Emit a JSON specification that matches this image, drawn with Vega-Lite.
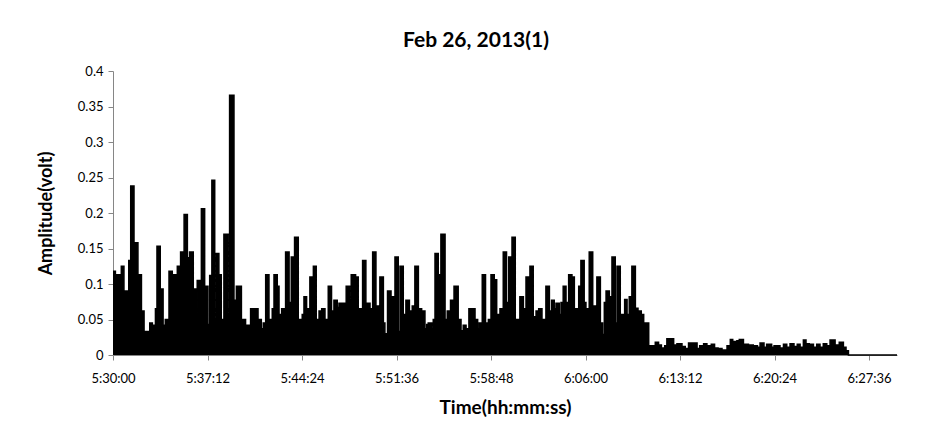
{
  "$schema": "https://vega.github.io/schema/vega-lite/v6.json",
  "width": 784,
  "height": 284,
  "autosize": {"type": "none"},
  "padding": {"left": 113, "top": 71, "right": 28, "bottom": 80},
  "background": "white",
  "config": {
    "view": {"stroke": null},
    "font": "Lato",
    "axis": {"labelFont": "Lato", "titleFont": "Lato"}
  },
  "title": {
    "text": "Feb 26, 2013(1)",
    "font": "Lato",
    "fontSize": 21,
    "fontWeight": "bold",
    "color": "black",
    "anchor": "middle",
    "dx": -29,
    "offset": 14
  },
  "data": {
    "values": [
      {"time": 0, "amplitude": 0.118}, {"time": 11, "amplitude": 0.113}, {"time": 38, "amplitude": 0.125}, {"time": 50, "amplitude": 0.09},
      {"time": 66, "amplitude": 0.05}, {"time": 72, "amplitude": 0.133}, {"time": 81, "amplitude": 0.238}, {"time": 96, "amplitude": 0.158},
      {"time": 114, "amplitude": 0.113}, {"time": 130, "amplitude": 0.062}, {"time": 142, "amplitude": 0.033}, {"time": 168, "amplitude": 0.045},
      {"time": 180, "amplitude": 0.042}, {"time": 194, "amplitude": 0.065}, {"time": 201, "amplitude": 0.153}, {"time": 216, "amplitude": 0.093},
      {"time": 229, "amplitude": 0.042}, {"time": 239, "amplitude": 0.05}, {"time": 256, "amplitude": 0.118}, {"time": 271, "amplitude": 0.113},
      {"time": 294, "amplitude": 0.125}, {"time": 309, "amplitude": 0.145}, {"time": 325, "amplitude": 0.198}, {"time": 340, "amplitude": 0.137},
      {"time": 350, "amplitude": 0.145}, {"time": 367, "amplitude": 0.093}, {"time": 381, "amplitude": 0.057}, {"time": 385, "amplitude": 0.105},
      {"time": 404, "amplitude": 0.206}, {"time": 419, "amplitude": 0.097}, {"time": 434, "amplitude": 0.043}, {"time": 442, "amplitude": 0.112},
      {"time": 452, "amplitude": 0.246}, {"time": 465, "amplitude": 0.05}, {"time": 472, "amplitude": 0.143}, {"time": 484, "amplitude": 0.113},
      {"time": 495, "amplitude": 0.05}, {"time": 507, "amplitude": 0.17}, {"time": 526, "amplitude": 0.057}, {"time": 533, "amplitude": 0.366},
      {"time": 553, "amplitude": 0.077}, {"time": 564, "amplitude": 0.097}, {"time": 587, "amplitude": 0.05}, {"time": 606, "amplitude": 0.033},
      {"time": 611, "amplitude": 0.042}, {"time": 629, "amplitude": 0.065}, {"time": 663, "amplitude": 0.05}, {"time": 678, "amplitude": 0.037},
      {"time": 687, "amplitude": 0.045}, {"time": 698, "amplitude": 0.113}, {"time": 713, "amplitude": 0.05}, {"time": 728, "amplitude": 0.065},
      {"time": 736, "amplitude": 0.113}, {"time": 751, "amplitude": 0.097}, {"time": 759, "amplitude": 0.057}, {"time": 771, "amplitude": 0.065},
      {"time": 789, "amplitude": 0.145}, {"time": 805, "amplitude": 0.074}, {"time": 815, "amplitude": 0.138}, {"time": 830, "amplitude": 0.166},
      {"time": 847, "amplitude": 0.05}, {"time": 865, "amplitude": 0.057}, {"time": 873, "amplitude": 0.082}, {"time": 885, "amplitude": 0.065},
      {"time": 900, "amplitude": 0.11}, {"time": 916, "amplitude": 0.125}, {"time": 929, "amplitude": 0.05}, {"time": 942, "amplitude": 0.062},
      {"time": 954, "amplitude": 0.065}, {"time": 969, "amplitude": 0.05}, {"time": 984, "amplitude": 0.097}, {"time": 999, "amplitude": 0.062},
      {"time": 1010, "amplitude": 0.077}, {"time": 1025, "amplitude": 0.067}, {"time": 1033, "amplitude": 0.073}, {"time": 1066, "amplitude": 0.097},
      {"time": 1082, "amplitude": 0.074}, {"time": 1089, "amplitude": 0.113}, {"time": 1109, "amplitude": 0.11}, {"time": 1121, "amplitude": 0.065},
      {"time": 1141, "amplitude": 0.133}, {"time": 1156, "amplitude": 0.073}, {"time": 1175, "amplitude": 0.065}, {"time": 1187, "amplitude": 0.145},
      {"time": 1202, "amplitude": 0.069}, {"time": 1220, "amplitude": 0.11}, {"time": 1236, "amplitude": 0.045}, {"time": 1243, "amplitude": 0.03},
      {"time": 1255, "amplitude": 0.09}, {"time": 1271, "amplitude": 0.082}, {"time": 1289, "amplitude": 0.138}, {"time": 1304, "amplitude": 0.033},
      {"time": 1312, "amplitude": 0.125}, {"time": 1327, "amplitude": 0.057}, {"time": 1339, "amplitude": 0.077}, {"time": 1355, "amplitude": 0.062},
      {"time": 1368, "amplitude": 0.069}, {"time": 1380, "amplitude": 0.125}, {"time": 1396, "amplitude": 0.065}, {"time": 1411, "amplitude": 0.062},
      {"time": 1426, "amplitude": 0.037}, {"time": 1434, "amplitude": 0.043}, {"time": 1441, "amplitude": 0.045}, {"time": 1457, "amplitude": 0.026},
      {"time": 1464, "amplitude": 0.05}, {"time": 1472, "amplitude": 0.143}, {"time": 1487, "amplitude": 0.113}, {"time": 1499, "amplitude": 0.17},
      {"time": 1518, "amplitude": 0.05}, {"time": 1528, "amplitude": 0.062}, {"time": 1543, "amplitude": 0.077}, {"time": 1559, "amplitude": 0.097},
      {"time": 1578, "amplitude": 0.05}, {"time": 1591, "amplitude": 0.034}, {"time": 1601, "amplitude": 0.042}, {"time": 1614, "amplitude": 0.037},
      {"time": 1627, "amplitude": 0.065}, {"time": 1655, "amplitude": 0.05}, {"time": 1667, "amplitude": 0.037}, {"time": 1674, "amplitude": 0.045},
      {"time": 1688, "amplitude": 0.113}, {"time": 1703, "amplitude": 0.045}, {"time": 1716, "amplitude": 0.05}, {"time": 1728, "amplitude": 0.113},
      {"time": 1743, "amplitude": 0.106}, {"time": 1754, "amplitude": 0.057}, {"time": 1763, "amplitude": 0.015}, {"time": 1769, "amplitude": 0.065},
      {"time": 1784, "amplitude": 0.145}, {"time": 1799, "amplitude": 0.074}, {"time": 1809, "amplitude": 0.138}, {"time": 1824, "amplitude": 0.166},
      {"time": 1839, "amplitude": 0.05}, {"time": 1860, "amplitude": 0.082}, {"time": 1876, "amplitude": 0.065}, {"time": 1888, "amplitude": 0.11},
      {"time": 1906, "amplitude": 0.125}, {"time": 1921, "amplitude": 0.054}, {"time": 1934, "amplitude": 0.062}, {"time": 1946, "amplitude": 0.065},
      {"time": 1961, "amplitude": 0.05}, {"time": 1979, "amplitude": 0.097}, {"time": 1995, "amplitude": 0.062}, {"time": 2005, "amplitude": 0.077},
      {"time": 2017, "amplitude": 0.065}, {"time": 2025, "amplitude": 0.073}, {"time": 2040, "amplitude": 0.057}, {"time": 2048, "amplitude": 0.074},
      {"time": 2058, "amplitude": 0.097}, {"time": 2071, "amplitude": 0.074}, {"time": 2083, "amplitude": 0.113}, {"time": 2098, "amplitude": 0.11},
      {"time": 2109, "amplitude": 0.065}, {"time": 2129, "amplitude": 0.097}, {"time": 2139, "amplitude": 0.133}, {"time": 2154, "amplitude": 0.074},
      {"time": 2162, "amplitude": 0.065}, {"time": 2177, "amplitude": 0.145}, {"time": 2193, "amplitude": 0.069}, {"time": 2212, "amplitude": 0.11},
      {"time": 2228, "amplitude": 0.045}, {"time": 2238, "amplitude": 0.029}, {"time": 2246, "amplitude": 0.074}, {"time": 2254, "amplitude": 0.09},
      {"time": 2269, "amplitude": 0.082}, {"time": 2281, "amplitude": 0.138}, {"time": 2296, "amplitude": 0.045}, {"time": 2304, "amplitude": 0.125},
      {"time": 2319, "amplitude": 0.057}, {"time": 2339, "amplitude": 0.078}, {"time": 2350, "amplitude": 0.057}, {"time": 2360, "amplitude": 0.082},
      {"time": 2372, "amplitude": 0.125}, {"time": 2388, "amplitude": 0.066}, {"time": 2400, "amplitude": 0.062}, {"time": 2415, "amplitude": 0.057},
      {"time": 2426, "amplitude": 0.045}, {"time": 2449, "amplitude": 0.013}, {"time": 2479, "amplitude": 0.018}, {"time": 2494, "amplitude": 0.014},
      {"time": 2507, "amplitude": 0.01}, {"time": 2522, "amplitude": 0.013}, {"time": 2532, "amplitude": 0.023}, {"time": 2563, "amplitude": 0.014},
      {"time": 2578, "amplitude": 0.016}, {"time": 2601, "amplitude": 0.012}, {"time": 2616, "amplitude": 0.009}, {"time": 2631, "amplitude": 0.017},
      {"time": 2670, "amplitude": 0.009}, {"time": 2682, "amplitude": 0.013}, {"time": 2700, "amplitude": 0.016}, {"time": 2715, "amplitude": 0.013},
      {"time": 2735, "amplitude": 0.015}, {"time": 2750, "amplitude": 0.01}, {"time": 2766, "amplitude": 0.009}, {"time": 2784, "amplitude": 0.007},
      {"time": 2807, "amplitude": 0.013}, {"time": 2822, "amplitude": 0.022}, {"time": 2833, "amplitude": 0.019}, {"time": 2852, "amplitude": 0.02},
      {"time": 2863, "amplitude": 0.022}, {"time": 2882, "amplitude": 0.015}, {"time": 2905, "amplitude": 0.014}, {"time": 2927, "amplitude": 0.013},
      {"time": 2946, "amplitude": 0.011}, {"time": 2958, "amplitude": 0.017}, {"time": 2976, "amplitude": 0.011}, {"time": 2988, "amplitude": 0.015},
      {"time": 3011, "amplitude": 0.011}, {"time": 3022, "amplitude": 0.013}, {"time": 3049, "amplitude": 0.01}, {"time": 3065, "amplitude": 0.015},
      {"time": 3080, "amplitude": 0.011}, {"time": 3095, "amplitude": 0.016}, {"time": 3113, "amplitude": 0.012}, {"time": 3128, "amplitude": 0.015},
      {"time": 3141, "amplitude": 0.011}, {"time": 3156, "amplitude": 0.021}, {"time": 3168, "amplitude": 0.016}, {"time": 3183, "amplitude": 0.015},
      {"time": 3202, "amplitude": 0.011}, {"time": 3217, "amplitude": 0.015}, {"time": 3232, "amplitude": 0.011}, {"time": 3247, "amplitude": 0.016},
      {"time": 3263, "amplitude": 0.013}, {"time": 3278, "amplitude": 0.021}, {"time": 3301, "amplitude": 0.014}, {"time": 3320, "amplitude": 0.018},
      {"time": 3339, "amplitude": 0.011}, {"time": 3351, "amplitude": 0.006}, {"time": 3362, "amplitude": 0}, {"time": 3584, "amplitude": 0}
    ]
  },
  "encoding": {
    "x": {
      "field": "time",
      "type": "quantitative",
      "scale": {"domain": [0, 3584], "nice": false, "zero": false},
      "axis": {
        "title": "Time(hh:mm:ss)",
        "titleFontSize": 19,
        "titleFontWeight": "bold",
        "titleColor": "black",
        "titlePadding": 13,
        "values": [0, 432, 864, 1296, 1728, 2160, 2592, 3024, 3456],
        "labelExpr": "utcFormat((datum.value + 19800) * 1000, '%-H:%M:%S')",
        "labelFontSize": 13,
        "labelColor": "black",
        "labelPadding": 12,
        "grid": false,
        "tickSize": 5,
        "tickColor": "#868686",
        "domainColor": "#868686",
        "labelFlush": false,
        "labelOverlap": false
      }
    },
    "y": {
      "field": "amplitude",
      "type": "quantitative",
      "scale": {"domain": [0, 0.4], "nice": false},
      "axis": {
        "title": "Amplitude(volt)",
        "titleFontSize": 18,
        "titleFontWeight": "bold",
        "titleColor": "black",
        "titlePadding": 22,
        "values": [0, 0.05, 0.1, 0.15, 0.2, 0.25, 0.3, 0.35, 0.4],
        "format": ".2~f",
        "labelFontSize": 13,
        "labelColor": "black",
        "labelPadding": 5,
        "grid": false,
        "tickSize": 5,
        "tickColor": "#868686",
        "domainColor": "#868686",
        "labelOverlap": false
      }
    }
  },
  "layer": [
    {"mark": {"type": "area", "interpolate": "step-after", "color": "black", "opacity": 1}},
    {"mark": {"type": "line", "interpolate": "step-after", "color": "black", "strokeWidth": 1.5}}
  ]
}
